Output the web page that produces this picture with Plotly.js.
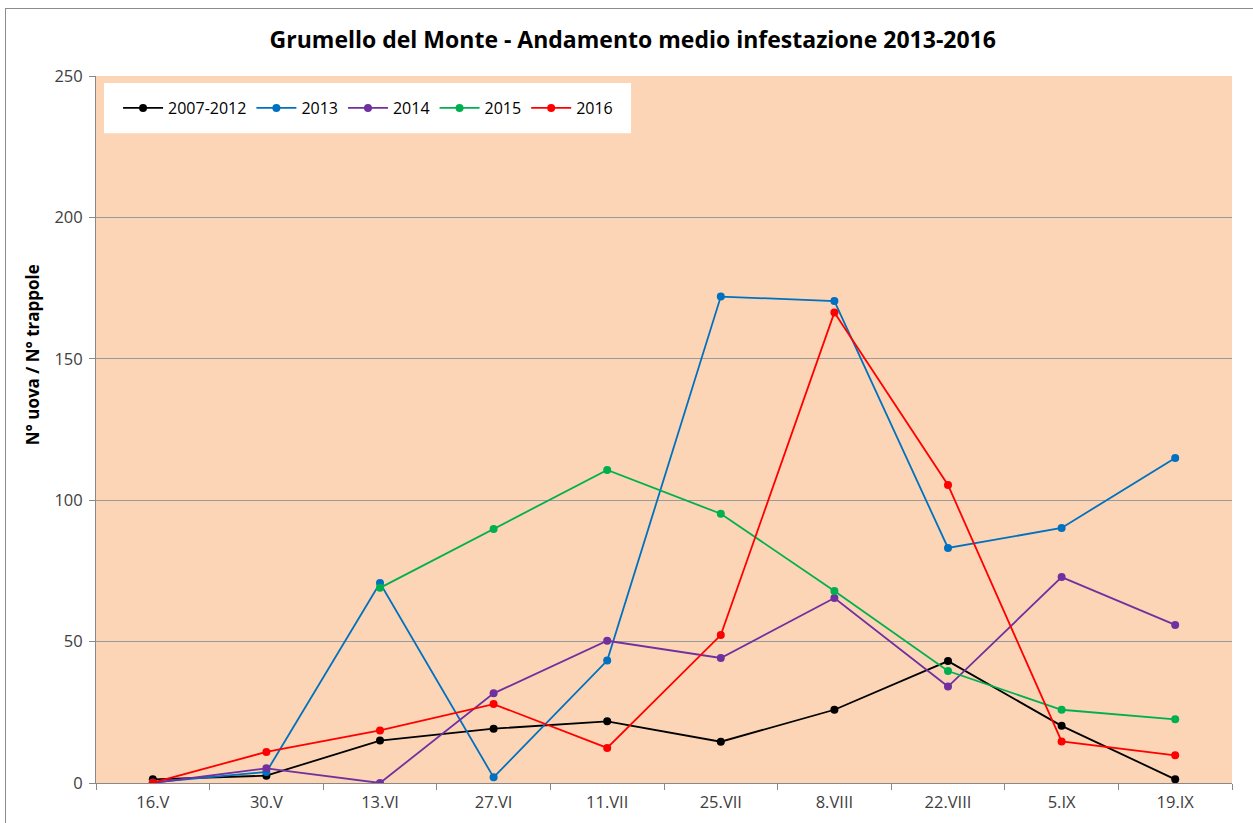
<!DOCTYPE html>
<html>
<head>
<meta charset="utf-8">
<script src="https://cdn.plot.ly/plotly-3.0.1.min.js"></script>
<style>
html,body{margin:0;padding:0;background:#fff;}
#frame{position:absolute;left:5px;top:8px;width:1260px;height:830px;border:1px solid #8c8c8c;box-sizing:border-box;}
#chart{position:absolute;left:0;top:0;width:1253px;height:823px;}
</style>
</head>
<body>
<div id="frame"></div>
<div id="chart"></div>
<script>
const categories = ["16.V","30.V","13.VI","27.VI","11.VII","25.VII","8.VIII","22.VIII","5.IX","19.IX"];
const s2007_2012 = [1.3, 2.6, 15.0, 19.2, 21.8, 14.6, 25.9, 43.1, 20.2, 1.3];
const s2013 = [0.2, 3.9, 70.7, 2.0, 43.3, 172.0, 170.4, 83.1, 90.2, 114.9];
const s2014 = [0, 5.2, 0, 31.7, 50.3, 44.2, 65.4, 34.1, 72.8, 55.9];
const s2015 = [null, null, 69.0, 89.8, 110.7, 95.2, 67.9, 39.6, 25.9, 22.5];
const s2016 = [0.1, 11.0, 18.6, 27.9, 12.4, 52.3, 166.4, 105.4, 14.7, 9.8];
const seriesNames = ["2007-2012","2013","2014","2015","2016"];
const seriesColors = ["#000000","#0070C0","#7030A0","#00B050","#FF0000"];
const seriesData = [s2007_2012, s2013, s2014, s2015, s2016];

const traces = seriesData.map((d,i)=>({
  type:'scatter', mode:'lines+markers', x:categories, y:d, name:seriesNames[i],
  line:{color:seriesColors[i], width:1.8}, marker:{color:seriesColors[i], size:8},
  connectgaps:false
}));

const layout = {
  width:1253, height:823,
  margin:{l:96, r:21, t:76, b:40},
  paper_bgcolor:'rgba(0,0,0,0)',
  plot_bgcolor:'#FBD5B5',
  font:{family:'"Open Sans", "Liberation Sans", sans-serif', size:15, color:'#404040'},
  title:{text:'<b>Grumello del Monte - Andamento medio infestazione 2013-2016</b>', x:0.505, xanchor:'center', y:0.952, yanchor:'middle', font:{size:23, color:'#000', family:'"Open Sans", sans-serif'}},
  xaxis:{type:'category', tickson:'boundaries', ticks:'outside', ticklen:6, tickcolor:'#888', showline:true, linecolor:'#888', linewidth:1, showgrid:false, tickfont:{size:16.5, color:'#404040'}, ticklabelstandoff:4, range:[-0.5, 9.5], zeroline:false},
  yaxis:{range:[0,250], dtick:50, tick0:0, ticks:'outside', ticklen:6, tickcolor:'#888', showline:true, linecolor:'#888', linewidth:1, gridcolor:'#9a9a9a', gridwidth:1, tickfont:{size:16.5, color:'#404040'}, ticklabelstandoff:3, zeroline:false},
  annotations:[{text:'<b>N° uova / N° trappole</b>', xref:'paper', yref:'paper', x:-0.0563, y:0.605, xanchor:'center', yanchor:'middle', textangle:-90, showarrow:false, font:{size:17, color:'#000'}}],
  shapes:[{type:'rect', xref:'paper', yref:'paper', x0:0.007, x1:0.4710, y0:0.919, y1:0.990, fillcolor:'#ffffff', line:{width:0}, layer:'above'}],
  showlegend:true,
  legend:{orientation:'h', x:0.0194, y:0.9547, xanchor:'left', yanchor:'middle', bgcolor:'rgba(0,0,0,0)', borderwidth:0, font:{size:16, color:'#000'}, itemwidth:40, tracegroupgap:0}
};
Plotly.newPlot('chart', traces, layout, {displayModeBar:false, staticPlot:true});
</script>
</body>
</html>
